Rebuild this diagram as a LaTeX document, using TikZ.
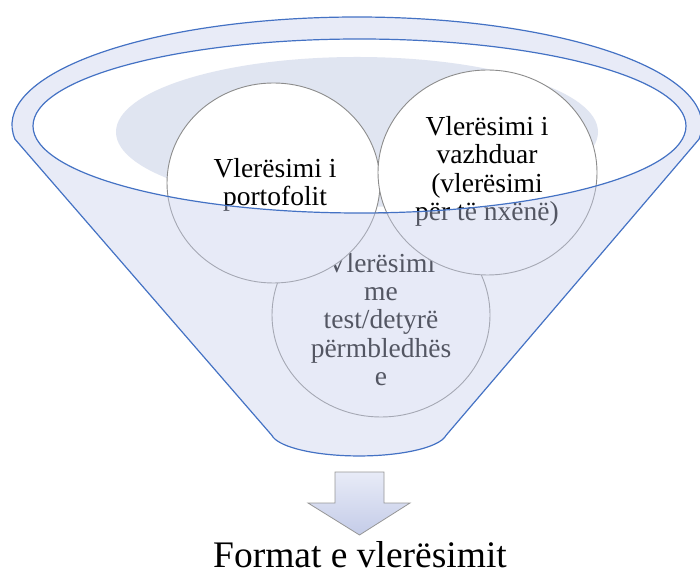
\documentclass[tikz,border=0pt]{standalone}
\usepackage{fontspec}
\setmainfont{Liberation Serif}
\usetikzlibrary{shapes.geometric}
\definecolor{rimblue}{RGB}{68,114,196}
\definecolor{veil}{RGB}{200,207,236}
\definecolor{innershade}{RGB}{224,229,241}
\definecolor{bubbleline}{RGB}{140,140,140}
\definecolor{arrowline}{RGB}{150,150,150}
\definecolor{arrowtop}{RGB}{232,235,247}
\definecolor{arrowbottom}{RGB}{196,204,232}
\begin{document}
\begin{tikzpicture}[x=1pt,y=1pt,
  bubble/.style={ellipse, draw=bubbleline, line width=0.9pt, fill=white, inner sep=0pt},
  bubbletext/.style={align=center, font=\fontsize{27.5}{28.4}\selectfont, inner sep=0pt},
  rim/.style={draw=rimblue, line width=1.2pt}]
\useasboundingbox (0,0) rectangle (700,575);
% opening of the funnel
\fill[white] (359.5,449) ellipse[x radius=326.5pt, y radius=87pt];
\fill[innershade] (357,443) ellipse[x radius=241pt, y radius=75pt];
% bubbles
\node[bubble, minimum width=218pt, minimum height=204pt] (c3) at (381,260) {};
\node[bubbletext] (t3) at (381,255.6) {Vlerësimi\\me\\test/detyrë\\përmbledhës\\e};
\node[bubble, minimum width=213pt, minimum height=200pt] (c1) at (273.5,392) {};
\node[bubbletext] (t1) at (275,390.3) {Vlerësimi i\\portofolit};
\node[bubble, minimum width=219pt, minimum height=205pt] (c2) at (487.5,402.5) {};
\node[bubbletext] (t2) at (487,403.8) {Vlerësimi i\\vazhduar\\(vlerësimi\\për të nxënë)};
% translucent funnel body
\fill[veil, fill opacity=0.42, even odd rule]
  (357,450) ++(187.6:345pt and 108pt)
  arc[start angle=187.6, end angle=-7.6, x radius=345pt, y radius=108pt]
  -- (446.1,139.7)
  arc[start angle=-8, end angle=-172, x radius=88pt, y radius=24pt]
  -- cycle
  (359.5,449) ellipse[x radius=326.5pt, y radius=87pt];
\draw[rim]
  (357,450) ++(187.6:345pt and 108pt)
  arc[start angle=187.6, end angle=-7.6, x radius=345pt, y radius=108pt]
  -- (446.1,139.7)
  arc[start angle=-8, end angle=-172, x radius=88pt, y radius=24pt]
  -- cycle;
\draw[rim] (359.5,449) ellipse[x radius=326.5pt, y radius=87pt];
% block arrow
\draw[draw=arrowline, line width=0.8pt, top color=arrowtop, bottom color=arrowbottom]
  (335,103) -- (384,103) -- (384,72) -- (410,72) -- (359.5,40) -- (308,72) -- (335,72) -- cycle;
% caption
\node[font=\fontsize{37.5}{40}\selectfont, anchor=base, inner sep=0pt] (title) at (360,8) {Format e vlerësimit};
\end{tikzpicture}
\end{document}
